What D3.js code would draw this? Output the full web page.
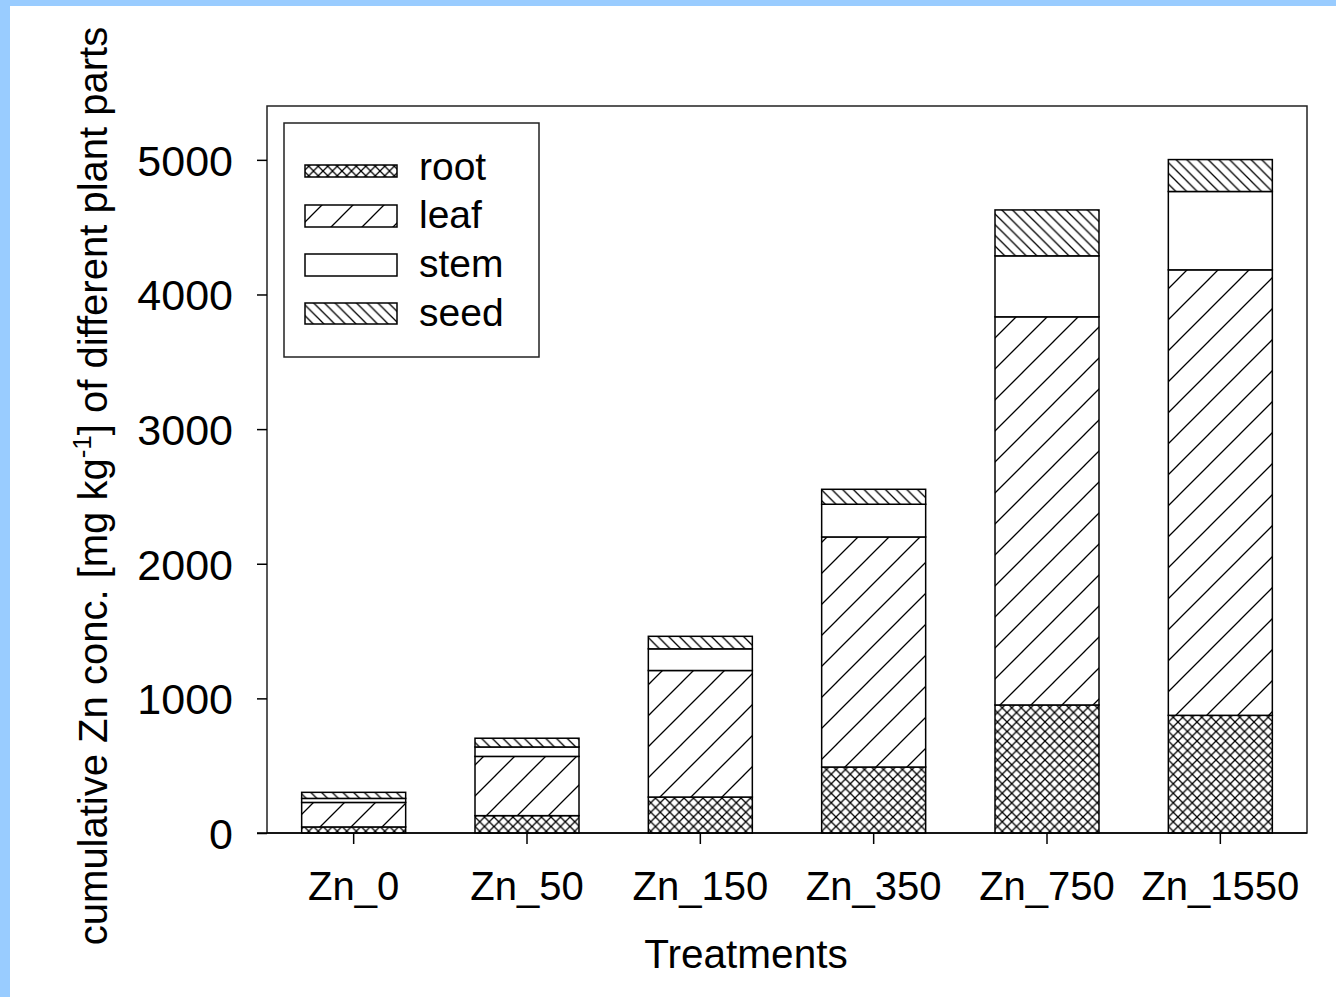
<!DOCTYPE html>
<html>
<head>
<meta charset="utf-8">
<script src="https://cdn.jsdelivr.net/npm/d3@7"></script>
<style>
  html, body { margin: 0; padding: 0; background: #99ccff; }
  svg { display: block; }
  text { font-family: "Liberation Sans", Arial, sans-serif; fill: #000; }
</style>
</head>
<body>
<script>
// Zn concentration per plant part (mg/kg), stacked per treatment
const treatments = ["Zn_0", "Zn_50", "Zn_150", "Zn_350", "Zn_750", "Zn_1550"];
const parts = ["root", "leaf", "stem", "seed"];
const root = [45, 129, 267, 490, 951, 874];
const leaf = [182, 440, 940, 1709, 2883, 3309];
const stem = [30, 70, 161, 243, 453, 582];
const seed = [45, 65, 93, 111, 341, 237];
const yTicks = [0, 1000, 2000, 3000, 4000, 5000];

const W = 1336, H = 997;
const svg = d3.select("body").append("svg").attr("width", W).attr("height", H);

// white page inside the blue surround (left and top)
svg.append("rect").attr("x", 10).attr("y", 6).attr("width", W - 10).attr("height", H - 6).attr("fill", "#fff");

// hatch patterns
const defs = svg.append("defs");
function hatch(id, p, dirs, sw) {
  const pat = defs.append("pattern").attr("id", id).attr("patternUnits", "userSpaceOnUse")
    .attr("width", p).attr("height", p);
  pat.append("rect").attr("width", p).attr("height", p).attr("fill", "#fff");
  dirs.forEach(d => {
    const path = d === "/"
      ? `M${-p / 2},${p / 2}L${p / 2},${-p / 2}M0,${p}L${p},0M${p / 2},${p * 1.5}L${p * 1.5},${p / 2}`
      : `M${-p / 2},${p / 2}L${p / 2},${p * 1.5}M0,0L${p},${p}M${p / 2},${-p / 2}L${p * 1.5},${p / 2}`;
    pat.append("path").attr("d", path).attr("stroke", "#000").attr("stroke-width", sw).attr("fill", "none");
  });
}
hatch("p-root", 9.5, ["/", "\\"], 1.3);
hatch("p-leaf", 31, ["/"], 1.3);
hatch("p-seed", 10.7, ["\\"], 1.3);
const fills = { root: "url(#p-root)", leaf: "url(#p-leaf)", stem: "#fff", seed: "url(#p-seed)" };

const plotL = 267, plotR = 1307, plotT = 106, plotB = 833;

const x = d3.scaleBand().domain(treatments).range([plotL, plotR]).paddingInner(0.4).paddingOuter(0.2);
const y = d3.scaleLinear().domain([0, 5400]).range([plotB, plotT]);

const rows = treatments.map((t, i) => ({ t, root: root[i], leaf: leaf[i], stem: stem[i], seed: seed[i] }));
const stacked = d3.stack().keys(parts)(rows);

// frame
svg.append("rect").attr("x", plotL).attr("y", plotT).attr("width", plotR - plotL).attr("height", plotB - plotT)
  .attr("fill", "none").attr("stroke", "#222").attr("stroke-width", 1.5);

// bars
stacked.forEach(layer => {
  svg.append("g").selectAll("rect").data(layer).join("rect")
    .attr("x", d => x(d.data.t))
    .attr("width", x.bandwidth())
    .attr("y", d => y(d[1]))
    .attr("height", d => y(d[0]) - y(d[1]))
    .attr("fill", fills[layer.key])
    .attr("stroke", "#000").attr("stroke-width", 1.5);
});

// y axis
const yAxis = d3.axisLeft(y).tickValues(yTicks).tickSize(10).tickPadding(24).tickFormat(d3.format("d"));
const gy = svg.append("g").attr("transform", `translate(${plotL},0)`).call(yAxis);
gy.select(".domain").remove();
gy.selectAll("line").attr("stroke", "#000").attr("stroke-width", 1.5);
gy.selectAll("text").attr("font-size", 43).attr("dy", "0.36em");

// x axis
const xAxis = d3.axisBottom(x).tickSize(11).tickPadding(0);
const gx = svg.append("g").attr("transform", `translate(0,${plotB})`).call(xAxis);
gx.select(".domain").remove();
gx.selectAll("line").attr("stroke", "#000").attr("stroke-width", 1.5);
gx.selectAll("text").attr("font-size", 40).attr("y", 67).attr("dy", 0);

// baseline extends left through the 0 tick
svg.append("line").attr("x1", plotL - 10).attr("x2", plotR).attr("y1", plotB).attr("y2", plotB)
  .attr("stroke", "#000").attr("stroke-width", 1.5);

// axis titles
svg.append("text").attr("x", 746).attr("y", 968).attr("text-anchor", "middle")
  .attr("font-size", 40.5).text("Treatments");

const yt = svg.append("text").attr("transform", "translate(107,486) rotate(-90)")
  .attr("text-anchor", "middle").attr("font-size", 40);
yt.append("tspan").text("cumulative Zn conc. [mg kg");
yt.append("tspan").attr("font-size", 26).attr("dy", -16).text("-1");
yt.append("tspan").attr("dy", 16).text("] of different plant parts");

// legend
const lg = svg.append("g");
lg.append("rect").attr("x", 284).attr("y", 123).attr("width", 255).attr("height", 234)
  .attr("fill", "#fff").attr("stroke", "#222").attr("stroke-width", 1.5);
const legendRows = [
  { key: "root", y0: 165, h: 12, base: 180 },
  { key: "leaf", y0: 205, h: 22, base: 228 },
  { key: "stem", y0: 254, h: 22, base: 277 },
  { key: "seed", y0: 303, h: 21, base: 326 }
];
legendRows.forEach(r => {
  lg.append("rect").attr("x", 305).attr("y", r.y0).attr("width", 92).attr("height", r.h)
    .attr("fill", fills[r.key]).attr("stroke", "#000").attr("stroke-width", 1.5);
  lg.append("text").attr("x", 419).attr("y", r.base).attr("font-size", 39).text(r.key);
});
</script>
</body>
</html>
